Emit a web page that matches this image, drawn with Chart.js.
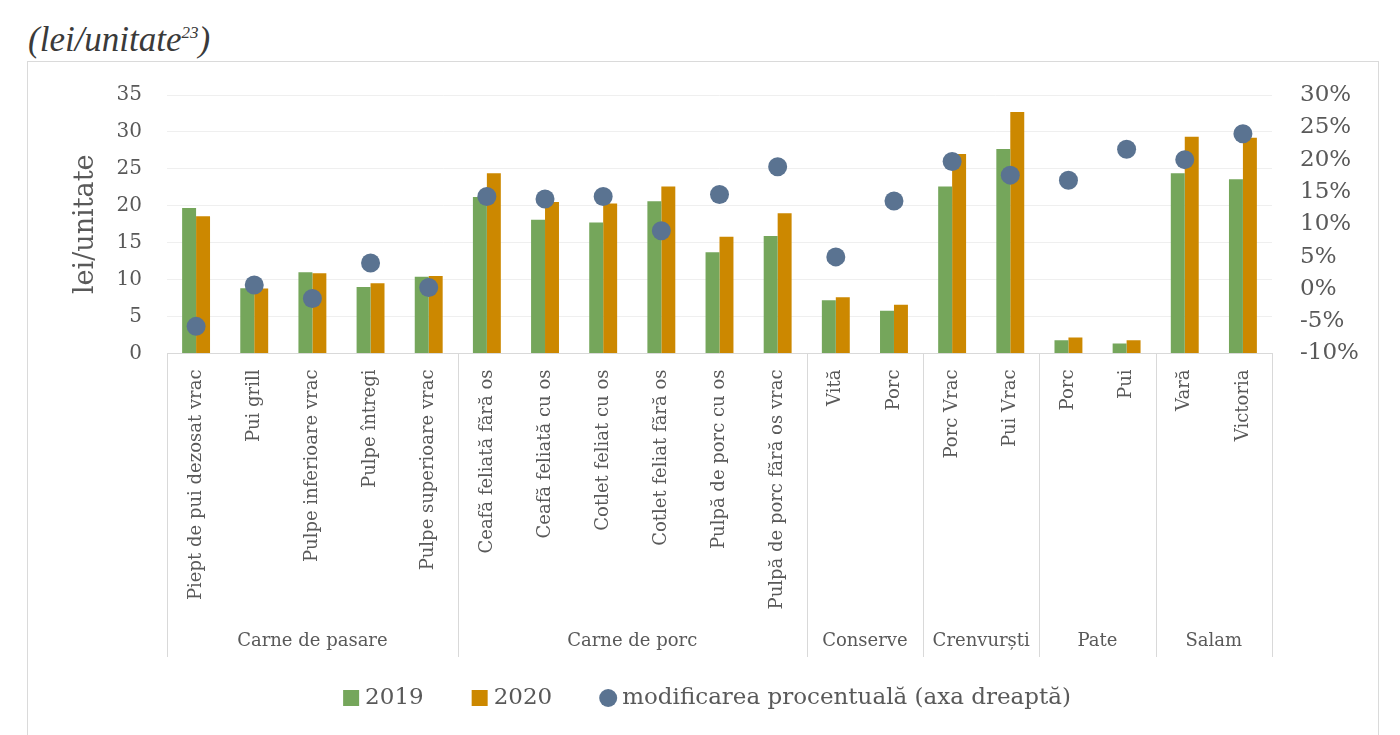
<!DOCTYPE html>
<html>
<head>
<meta charset="utf-8">
<script src="https://cdn.jsdelivr.net/npm/chart.js@4.4.1/dist/chart.umd.min.js"></script>
<style>
    html, body { margin: 0; padding: 0; background: #fff; }
    body { width: 1400px; height: 735px; position: relative; overflow: hidden; }
    #caption {
        position: absolute; left: 28px; top: 20px;
        font-family: "Liberation Serif", serif; font-style: italic;
        font-size: 35px; color: #3a3a3a;
    }
    #caption sup { font-size: 17px; }
    #frame {
        position: absolute; left: 27px; top: 61px; width: 1350px; height: 700px;
        border: 1.5px solid #dadada;
    }
    #chartWrap { position: absolute; left: 0; top: 0; width: 1400px; height: 735px; }
</style>
</head>
<body>
<div id="caption">(lei/unitate<sup>23</sup>)</div>
<div id="frame"></div>
<div id="chartWrap"><canvas id="priceChart" width="1400" height="735"></canvas></div>

<script>
// categorii (axa de jos)
const categories = [
    'Piept de pui dezosat vrac', 'Pui grill', 'Pulpe inferioare vrac', 'Pulpe întregi', 'Pulpe superioare vrac',
    'Ceafă feliată fără os', 'Ceafă feliată cu os', 'Cotlet feliat cu os', 'Cotlet feliat fără os',
    'Pulpă de porc cu os', 'Pulpă de porc fără os vrac',
    'Vită', 'Porc',
    'Porc Vrac', 'Pui Vrac',
    'Porc', 'Pui',
    'Vară', 'Victoria'
];
const groupNames = ['Carne de pasare', 'Carne de porc', 'Conserve', 'Crenvurști', 'Pate', 'Salam'];
const groupSizes = [5, 6, 2, 2, 2, 2];

const prices2019 = [19.7, 8.85, 11.0, 9.0, 10.4, 21.2, 18.1, 17.75, 20.6, 13.7, 15.9, 7.2, 5.8, 22.6, 27.7, 1.8, 1.35, 24.4, 23.6];
const prices2020 = [18.6, 8.8, 10.85, 9.5, 10.5, 24.4, 20.5, 20.3, 22.6, 15.8, 19.0, 7.6, 6.6, 27.0, 32.7, 2.17, 1.8, 29.35, 29.2];
const pctChange = [-5.8, 0.6, -1.5, 4.0, 0.2, 14.3, 13.9, 14.3, 9.0, 14.6, 18.9, 4.95, 13.6, 19.7, 17.6, 16.8, 21.6, 20.0, 24.0];

const leftTicks = [0, 5, 10, 15, 20, 25, 30, 35];
const rightTicks = [-10, -5, 0, 5, 10, 15, 20, 25, 30];

const textColor = '#595959';
const serif = '"DejaVu Serif", "Liberation Serif", serif';
const areaBottom = 353.5;

// separatoare, etichete de grup si legenda
const groupAxisPlugin = {
    id: 'groupAxis',
    afterDraw(chart) {
        const x = chart.scales.x;
        const ctx = chart.ctx;
        const half = (x.getPixelForValue(1) - x.getPixelForValue(0)) / 2;
        const top = chart.chartArea.bottom;
        ctx.save();
        ctx.strokeStyle = '#d9d9d9';
        ctx.lineWidth = 1;
        ctx.fillStyle = textColor;
        ctx.font = '18px ' + serif;
        ctx.textAlign = 'center';
        ctx.textBaseline = 'middle';
        let start = 0;
        const edges = [0];
        groupSizes.forEach(n => { start += n; edges.push(start); });
        edges.forEach(i => {
            const px = Math.round(x.getPixelForValue(i) - half) + 0.5;
            ctx.beginPath();
            ctx.moveTo(px, top);
            ctx.lineTo(px, 657);
            ctx.stroke();
        });
        for (let g = 0; g < groupNames.length; g++) {
            const a = x.getPixelForValue(edges[g]) - half;
            const b = x.getPixelForValue(edges[g + 1]) - half;
            ctx.fillText(groupNames[g], (a + b) / 2, 641);
        }

        // legenda
        const items = chart.data.datasets.map(ds => ({
            text: ds.label,
            color: ds.backgroundColor,
            round: ds.type === 'line'
        }));
        ctx.font = '23px ' + serif;
        ctx.textAlign = 'left';
        const box = 16, gap = 6, between = 48, cy = 698;
        const widths = items.map(it => box + gap + ctx.measureText(it.text).width);
        const total = widths.reduce((s, w) => s + w, 0) + between * (items.length - 1);
        let lx = 707 - total / 2;
        items.forEach((it, i) => {
            ctx.fillStyle = it.color;
            if (it.round) {
                ctx.beginPath();
                ctx.arc(lx + box / 2, cy, 9, 0, Math.PI * 2);
                ctx.fill();
            } else {
                ctx.fillRect(lx, cy - box / 2, box, box);
            }
            ctx.fillStyle = textColor;
            ctx.fillText(it.text, lx + box + gap, cy);
            lx += widths[i] + between;
        });
        ctx.restore();
    }
};

const ctx = document.getElementById('priceChart').getContext('2d');
const priceChart = new Chart(ctx, {
    data: {
        labels: categories,
        datasets: [
            {
                type: 'bar',
                label: '2019',
                data: prices2019,
                backgroundColor: '#75a65b',
                categoryPercentage: 0.48,
                barPercentage: 1.0,
                order: 2,
                yAxisID: 'y'
            },
            {
                type: 'bar',
                label: '2020',
                data: prices2020,
                backgroundColor: '#cc8800',
                categoryPercentage: 0.48,
                barPercentage: 1.0,
                order: 2,
                yAxisID: 'y'
            },
            {
                type: 'line',
                label: 'modificarea procentuală (axa dreaptă)',
                data: pctChange,
                showLine: false,
                pointRadius: 9.5,
                pointHoverRadius: 9.5,
                pointBackgroundColor: '#5a7391',
                pointBorderWidth: 0,
                backgroundColor: '#5a7391',
                borderColor: '#5a7391',
                order: 0,
                yAxisID: 'y1'
            }
        ]
    },
    options: {
        responsive: false,
        maintainAspectRatio: false,
        animation: false,
        devicePixelRatio: 1,
        layout: { padding: { top: 95, left: 0, right: 0, bottom: 0 } },
        plugins: {
            tooltip: { enabled: false },
            legend: { display: false }
        },
        scales: {
            x: {
                grid: { display: false },
                border: { display: true, color: '#d9d9d9', width: 1 },
                ticks: {
                    autoSkip: false,
                    maxRotation: 90,
                    minRotation: 90,
                    padding: 8,
                    color: textColor,
                    font: { family: serif, size: 18 }
                },
                afterFit(scale) { scale.height = 735 - areaBottom; }
            },
            y: {
                position: 'left',
                min: 0,
                max: 35,
                afterBuildTicks(scale) { scale.ticks = leftTicks.map(v => ({ value: v })); },
                grid: { color: '#efefef', drawTicks: false },
                border: { display: false },
                ticks: {
                    padding: 25,
                    color: textColor,
                    font: { family: serif, size: 20 }
                },
                title: {
                    display: true,
                    text: 'lei/unitate',
                    color: textColor,
                    font: { family: serif, size: 27 },
                    padding: { top: 70, bottom: 0 }
                },
                afterFit(scale) { scale.width = 167; }
            },
            y1: {
                position: 'right',
                min: -10,
                max: 30,
                afterBuildTicks(scale) { scale.ticks = rightTicks.map(v => ({ value: v })); },
                grid: { display: false },
                border: { display: false },
                ticks: {
                    padding: 20,
                    color: textColor,
                    font: { family: serif, size: 23 },
                    callback: v => v + '%'
                },
                afterFit(scale) { scale.width = 1400 - 1272; }
            }
        }
    },
    plugins: [groupAxisPlugin]
});
</script>
</body>
</html>
